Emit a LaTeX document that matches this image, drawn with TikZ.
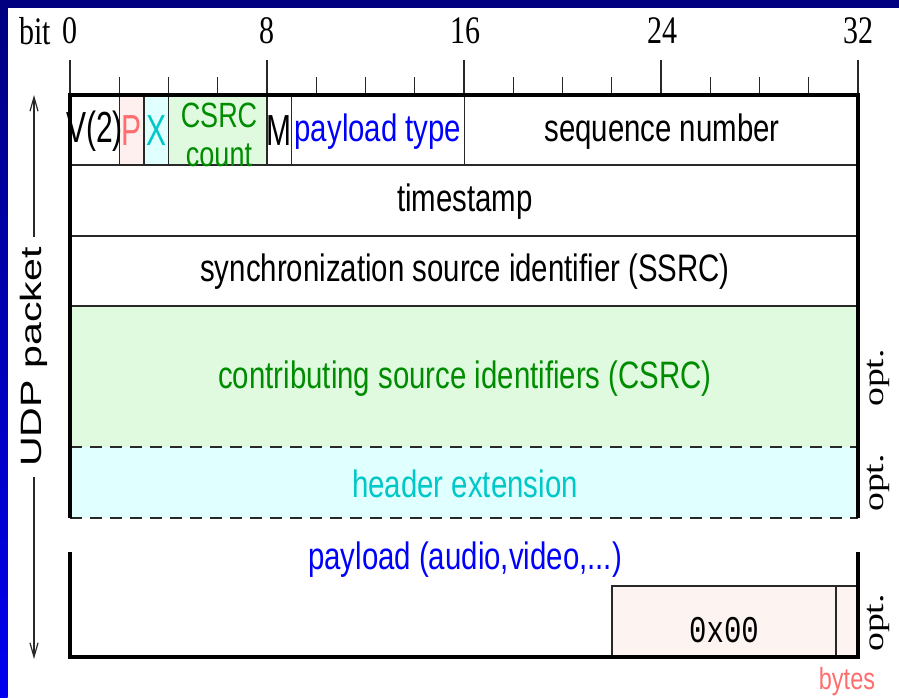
\documentclass[tikz,border=0pt]{standalone}
\usepackage{fontspec}
\setmainfont{Liberation Serif}
\setsansfont{Liberation Sans}
\setmonofont{Liberation Mono}
\usetikzlibrary{arrows.meta}

\definecolor{navy}{RGB}{0,0,128}
\definecolor{brightblue}{RGB}{0,0,240}
\definecolor{pfill}{RGB}{255,240,240}
\definecolor{xfill}{RGB}{224,255,255}
\definecolor{cfill}{RGB}{224,250,224}
\definecolor{padfill}{RGB}{253,244,241}
\definecolor{salmon}{RGB}{255,110,110}
\definecolor{cyantext}{RGB}{0,200,200}
\definecolor{greentext}{RGB}{0,140,0}
\definecolor{linegray}{RGB}{40,40,40}

% text is drawn slightly tall and narrow
\newcommand{\tall}[1]{\scalebox{1}[1.3]{#1}}
\newcommand{\taller}[1]{\scalebox{1}[1.45]{#1}}
\newcommand{\along}[1]{\scalebox{1.3}[1]{#1}}

\tikzset{
  thickline/.style={line width=3.5pt,black},
  thinline/.style={line width=1.4pt,linegray},
  dashline/.style={line width=2pt,linegray,dash pattern=on 12pt off 8pt},
  tickline/.style={line width=1.4pt,linegray},
  sanslbl/.style={inner sep=0pt,font=\sffamily\fontsize{29.4}{34}\selectfont},
  fieldlbl/.style={inner sep=0pt,font=\sffamily\fontsize{30}{34}\selectfont},
  smalllbl/.style={inner sep=0pt,anchor=base,font=\sffamily\fontsize{27}{30}\selectfont},
  seriflbl/.style={inner sep=0pt,font=\rmfamily\fontsize{30}{34}\selectfont},
  optlbl/.style={inner sep=0pt,rotate=90,font=\rmfamily\fontsize{29}{34}\selectfont},
}

\begin{document}
\begin{tikzpicture}[x=1pt,y=-1pt]
\useasboundingbox (0,0) rectangle (899,698);
\fill[white] (0,0) rectangle (899,698);
% frame bands
\shade[top color=navy,bottom color=brightblue] (0,0) rectangle (7.5,698);
\fill[navy] (0,0) rectangle (899,8.5);

% field backgrounds
\fill[pfill] (119.25,95) rectangle (143.9,165);
\fill[xfill] (143.9,95) rectangle (168.5,165);
\fill[cfill] (168.5,95) rectangle (267,165);
\fill[cfill] (70,306) rectangle (858,447);
\fill[xfill] (70,447) rectangle (858,518);
\fill[padfill] (612,586) rectangle (858,657);

% bit ruler
\foreach \i in {0,2,...,32} {
  \pgfmathsetmacro{\bx}{70+24.625*\i}
  \pgfmathtruncatemacro{\m}{mod(\i,8)}
  \ifnum\m=0
    \draw[tickline] (\bx,60) -- (\bx,95);
  \else
    \draw[tickline] (\bx,77) -- (\bx,95);
  \fi
}
\node[seriflbl] (bitlbl) at (35,31) {\tall{bit}};
\node[seriflbl] (b0) at (70,31) {\tall{0}};
\node[seriflbl] (b8) at (267,31) {\tall{8}};
\node[seriflbl] (b16) at (465,31) {\tall{16}};
\node[seriflbl] (b24) at (662,31) {\tall{24}};
\node[seriflbl] (b32) at (858,31) {\tall{32}};

% internal separators
\draw[thinline] (70,165) -- (858,165);
\draw[thinline] (70,236) -- (858,236);
\draw[thinline] (70,306) -- (858,306);
\foreach \bx in {119.25,143.9,168.5,267,291.6,464.5}
  \draw[thinline] (\bx,95) -- (\bx,165);
\draw[dashline] (70,447) -- (858,447);
\draw[dashline] (70,518) -- (858,518);
\draw[thinline] (612,657) -- (612,586) -- (858,586);
\draw[thinline] (836,586) -- (836,657);

% outline of header and payload
\draw[thickline] (70,518) -- (70,95) -- (858,95) -- (858,518);
\draw[thickline] (70,552) -- (70,657) -- (858,657) -- (858,552);

% header fields
\node[fieldlbl] (fV) at (94.5,131) {\taller{V(2)}};
\node[fieldlbl,text=salmon] (fP) at (132,131) {\taller{P}};
\node[fieldlbl,text=cyantext] (fX) at (156.2,131) {\taller{X}};
\node[smalllbl,text=greentext] (fCC1) at (219,128) {\tall{CSRC}};
\node[smalllbl,text=greentext] (fCC2) at (219,166) {\tall{count}};
\node[fieldlbl] (fM) at (279.3,131) {\taller{M}};
\node[sanslbl,text=blue] (fPT) at (378,132) {\tall{payload type}};
\node[sanslbl] (fSN) at (662,132) {\tall{sequence number}};
\node[sanslbl] (fTS) at (465,202) {\tall{timestamp}};
\node[sanslbl] (fSSRC) at (465,272) {\tall{synchronization source identifier (SSRC)}};
\node[sanslbl,text=greentext] (fCSRC) at (465,379) {\tall{contributing source identifiers (CSRC)}};
\node[sanslbl,text=cyantext] (fEXT) at (465,484) {\tall{header extension}};
\node[sanslbl,text=blue] (fPL) at (465,560) {\tall{payload (audio,video,...)}};
\node[inner sep=0pt,font=\ttfamily\fontsize{29}{34}\selectfont] (fPAD) at (724,630) {\tall{0x00}};
\node[inner sep=0pt,text=salmon,font=\sffamily\fontsize{23.5}{28}\selectfont] (fBYTES) at (847,682) {\tall{bytes}};

% optional parts
\node[optlbl] (opt1) at (878,378) {\along{opt.}};
\node[optlbl] (opt2) at (878,483) {\along{opt.}};
\node[optlbl] (opt3) at (878,623) {\along{opt.}};

% extent of the UDP packet
\node[sanslbl,rotate=90] (udp) at (34,357) {\scalebox{1.4}[1]{UDP packet}};
\coordinate (udptop) at (34,95);
\coordinate (udpbot) at (34,659);
\draw[line width=1.2pt,linegray,-{Straight Barb[length=14pt,width=8pt]}] (udp.east) ++(0,-10) -- (udptop);
\draw[line width=1.2pt,linegray,-{Straight Barb[length=14pt,width=8pt]}] (udp.west) ++(0,10) -- (udpbot);
\end{tikzpicture}
\end{document}
